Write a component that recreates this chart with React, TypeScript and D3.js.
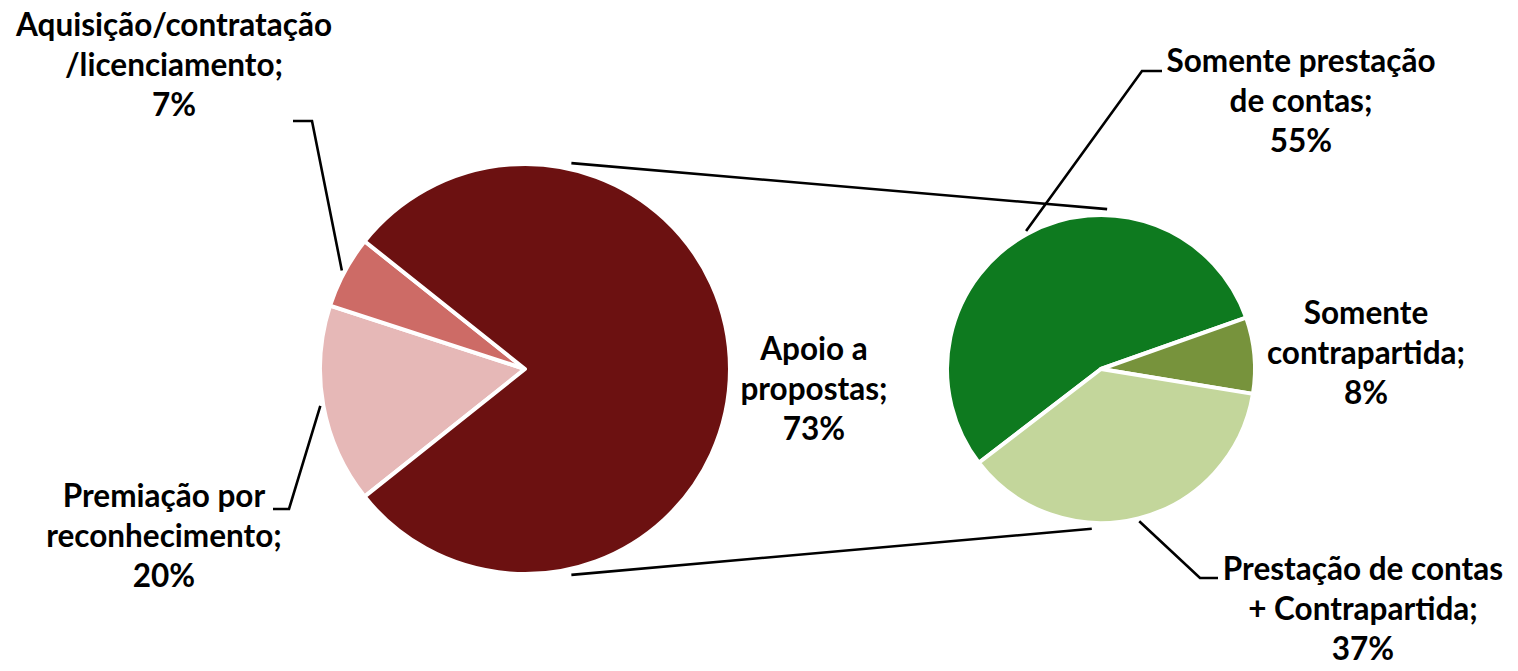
import React from 'react';
import * as d3 from 'd3';

const W = 1518;
const H = 671;

// First pie (labels as printed)
const leftCategories = ['Premiação por reconhecimento', 'Aquisição/contratação/licenciamento', 'Apoio a propostas'];
const leftValues = [15.7, 5.7, 78.6];
const leftLabelLines = [
  ['Premiação por', 'reconhecimento;', '20%'],
  ['Aquisição/contratação', '/licenciamento;', '7%'],
  ['Apoio a', 'propostas;', '73%'],
];
const leftColors = ['#E6B8B7', '#CD6B66', '#6C1111'];

// Second pie
const rightCategories = ['Somente prestação de contas', 'Somente contrapartida', 'Prestação de contas + Contrapartida'];
const rightValues = [55, 8, 37];
const rightLabelLines = [
  ['Somente prestação', 'de contas;', '55%'],
  ['Somente', 'contrapartida;', '8%'],
  ['Prestação de contas', '+ Contrapartida;', '37%'],
];
const rightColors = ['#0E7A1F', '#77933C', '#C3D69B'];

const FONT = 'Lato, "Open Sans", sans-serif';
const FS = 31.5;
const LH = 40;

export default function App() {
  const L = { cx: 525, cy: 369, r: 205 };
  const R = { cx: 1101, cy: 369, r: 154 };
  const deg = Math.PI / 180;

  const leftPie = d3.pie<number>().sort(null).startAngle(-128.5 * deg).endAngle(-128.5 * deg + 2 * Math.PI)(leftValues);
  const rightPie = d3.pie<number>().sort(null).startAngle(-127.5 * deg).endAngle(-127.5 * deg + 2 * Math.PI)(rightValues);

  const arcL = d3.arc<d3.PieArcDatum<number>>().innerRadius(0).outerRadius(L.r);
  const arcR = d3.arc<d3.PieArcDatum<number>>().innerRadius(0).outerRadius(R.r);

  const polar = (c: { cx: number; cy: number }, a: number, rr: number): [number, number] => [
    c.cx + Math.sin(a) * rr,
    c.cy - Math.cos(a) * rr,
  ];
  const mid = (d: d3.PieArcDatum<number>) => (d.startAngle + d.endAngle) / 2;

  // label anchors (center x, first baseline y) and leader elbows
  const leftLabelPos = [
    { x: 164, y: 507 },
    { x: 174, y: 36 },
    { x: 814, y: 360 },
  ];
  const rightLabelPos = [
    { x: 1301, y: 72 },
    { x: 1366, y: 324 },
    { x: 1363, y: 580 },
  ];
  const leftLeaders: ([number, number][] | null)[] = [
    [[273, 509], [289, 509]],
    [[293, 121], [312, 121]],
    null,
  ];
  const rightLeaders: ([number, number][] | null)[] = [
    [[1162, 71], [1142, 71]],
    null,
    [[1218, 578], [1200, 578]],
  ];

  const line = d3.line();

  // series lines between the two pies
  const topStart = polar(L, 12.7 * deg, L.r + 6);
  const botStart = polar(L, 167.3 * deg, L.r + 6);
  const topEnd = polar(R, 2.2 * deg, R.r + 6);
  const botEnd = polar(R, 183.3 * deg, R.r + 6);

  const renderLabel = (lines: string[], pos: { x: number; y: number }, key: string) => (
    <text key={key} x={pos.x} y={pos.y} textAnchor="middle" fontFamily={FONT} fontWeight={700} fontSize={FS} fill="#000">
      {lines.map((t, i) => (
        <tspan key={i} x={pos.x} y={pos.y + i * LH}>
          {t}
        </tspan>
      ))}
    </text>
  );

  return (
    <svg width={W} height={H} style={{ position: 'absolute', left: 0, top: 0, background: '#fff' }}>
      <rect width={W} height={H} fill="#fff" />
      <path d={line([topStart, topEnd]) || ''} stroke="#000" strokeWidth={2.6} fill="none" />
      <path d={line([botStart, botEnd]) || ''} stroke="#000" strokeWidth={2.6} fill="none" />

      <g transform={`translate(${L.cx},${L.cy})`}>
        {leftPie.map((d, i) => (
          <path key={leftCategories[i]} d={arcL(d) || ''} fill={leftColors[i]} stroke="#fff" strokeWidth={4} strokeLinejoin="round" />
        ))}
      </g>
      <g transform={`translate(${R.cx},${R.cy})`}>
        {rightPie.map((d, i) => (
          <path key={rightCategories[i]} d={arcR(d) || ''} fill={rightColors[i]} stroke="#fff" strokeWidth={4} strokeLinejoin="round" />
        ))}
      </g>

      {leftPie.map((d, i) => {
        const pts = leftLeaders[i];
        if (!pts) return null;
        const end = polar(L, mid(d), L.r + 3);
        return <path key={'ll' + i} d={line([...pts, end]) || ''} stroke="#000" strokeWidth={2.6} fill="none" />;
      })}
      {rightPie.map((d, i) => {
        const pts = rightLeaders[i];
        if (!pts) return null;
        const end = polar(R, mid(d), R.r + 3);
        return <path key={'rl' + i} d={line([...pts, end]) || ''} stroke="#000" strokeWidth={2.6} fill="none" />;
      })}

      {leftLabelLines.map((ls, i) => renderLabel(ls, leftLabelPos[i], 'lt' + i))}
      {rightLabelLines.map((ls, i) => renderLabel(ls, rightLabelPos[i], 'rt' + i))}
    </svg>
  );
}
